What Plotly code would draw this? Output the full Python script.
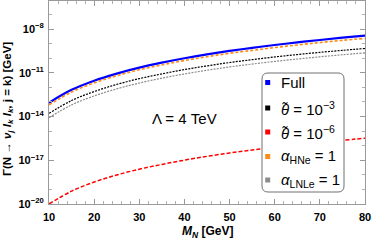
import plotly.graph_objects as go

# ---- data ----
m_n = [10, 15, 20, 25, 30, 35, 40, 45, 50, 55, 60, 65, 70, 75, 80]
gamma_full = [8.9e-14, 6.8e-13, 2.9e-12, 8.9e-12, 2.3e-11, 5.0e-11, 1.0e-10, 1.85e-10,
              3.2e-10, 5.2e-10, 8.1e-10, 1.23e-09, 1.8e-09, 2.6e-09, 3.6e-09]
gamma_hne = [6.3e-14, 4.8e-13, 2.04e-12, 6.3e-12, 1.62e-11, 3.5e-11, 7.0e-11, 1.28e-10,
             2.2e-10, 3.5e-10, 5.4e-10, 8.2e-10, 1.19e-09, 1.7e-09, 2.3e-09]
gamma_th3 = [1.66e-14, 1.26e-13, 5.2e-13, 1.6e-12, 4.0e-12, 8.5e-12, 1.68e-11, 3.0e-11,
             5.1e-11, 8.0e-11, 1.23e-10, 1.8e-10, 2.55e-10, 3.5e-10, 4.7e-10]
gamma_lnle = [8.3e-15, 6.3e-14, 2.6e-13, 8.0e-13, 2.0e-12, 4.3e-12, 8.4e-12, 1.5e-11,
              2.55e-11, 4.0e-11, 6.1e-11, 8.9e-11, 1.26e-10, 1.74e-10, 2.35e-10]
gamma_th6 = [1.0e-20, 7.6e-20, 3.2e-19, 9.8e-19, 2.45e-18, 5.2e-18, 1.02e-17, 1.86e-17,
             3.16e-17, 5.0e-17, 7.8e-17, 1.15e-16, 1.66e-16, 2.34e-16, 3.3e-16]

x_ticks = [10, 20, 30, 40, 50, 60, 70, 80]
y_tickvals = [1e-20, 1e-17, 1e-14, 1e-11, 1e-8]
y_ticktext = ["10<sup>−20</sup>", "10<sup>−17</sup>", "10<sup>−14</sup>",
              "10<sup>−11</sup>", "10<sup>−8</sup>"]

legend_names = ["Full", "<i>θ̃</i> = 10<sup>−3</sup>", "<i>θ̃</i> = 10<sup>−6</sup>",
                "<i>α</i><sub>HNe</sub> = 1", "<i>α</i><sub>LNLe</sub> = 1"]
legend_colors = ["#0000ff", "#000000", "#ff0000", "#ff8c1a", "#8c8c8c"]

FONT = "Liberation Sans, Arial"

# ---- figure ----
fig = go.Figure()
fig.add_trace(go.Scatter(x=m_n, y=gamma_full, mode="lines", line=dict(color="#0000ff", width=2.2, shape="spline"), name="Full", showlegend=False))
fig.add_trace(go.Scatter(x=m_n, y=gamma_hne, mode="lines", line=dict(color="#ff8c1a", width=1.6, dash="3px,2px", shape="spline"), name="α_HNe = 1", showlegend=False))
fig.add_trace(go.Scatter(x=m_n, y=gamma_th3, mode="lines", line=dict(color="#000000", width=1.2, dash="2px,1.2px", shape="spline"), name="θ = 1e-3", showlegend=False))
fig.add_trace(go.Scatter(x=m_n, y=gamma_lnle, mode="lines", line=dict(color="#8c8c8c", width=1.2, dash="2px,1.2px", shape="spline"), name="α_LNLe = 1", showlegend=False))
fig.add_trace(go.Scatter(x=m_n, y=gamma_th6, mode="lines", line=dict(color="#ff0000", width=1.5, dash="4px,2px", shape="spline"), name="θ = 1e-6", showlegend=False))

L, R, T, B = 49, 9, 1, 38
W, H = 374, 242
PW, PH = W - L - R, H - T - B

def px(p):
    return (p - L) / PW

def py(p):
    return (H - B - p) / PH

shapes = []
x0, x1, y0, y1, r = px(262), px(344), py(192), py(73), 6
rx, ry = r / PW, r / PH
path = (f"M {x0+rx},{y1} L {x1-rx},{y1} Q {x1},{y1} {x1},{y1-ry} "
        f"L {x1},{y0+ry} Q {x1},{y0} {x1-rx},{y0} L {x0+rx},{y0} "
        f"Q {x0},{y0} {x0},{y0+ry} L {x0},{y1-ry} Q {x0},{y1} {x0+rx},{y1} Z")
shapes.append(dict(type="path", path=path, xref="paper", yref="paper",
                   line=dict(color="#707070", width=1), fillcolor="white", layer="above"))
annotations = []
entry_y = [82.5, 108, 132, 156.5, 180]
for name, col, yy in zip(legend_names, legend_colors, entry_y):
    shapes.append(dict(type="rect", xref="paper", yref="paper",
                       x0=px(265.2), x1=px(270.2), y0=py(yy + 2.5), y1=py(yy - 2.5),
                       fillcolor=col, line=dict(width=0), layer="above"))
    annotations.append(dict(text=name, xref="paper", yref="paper", x=px(279), y=py(yy),
                            xanchor="left", yanchor="middle", showarrow=False,
                            font=dict(size=15, color="black", family=FONT)))

annotations.append(dict(text="Λ = 4 TeV", xref="paper", yref="paper", x=px(184.5), y=py(118),
                        xanchor="center", yanchor="middle", showarrow=False,
                        font=dict(size=15, color="black", family=FONT)))
annotations.append(dict(text="<b>Γ(N → <i>ν<sub>j</sub></i> <i>l<sub>k</sub></i> <i>l<sub>k</sub></i>, j = k) [GeV]</b>",
                        xref="paper", yref="paper", x=px(8), y=py(109), textangle=-90,
                        xanchor="center", yanchor="middle", showarrow=False,
                        font=dict(size=11.5, color="black", family=FONT)))
annotations.append(dict(text="<b><i>M<sub>N</sub></i> [GeV]</b>",
                        xref="paper", yref="paper", x=px(207), y=py(232),
                        xanchor="center", yanchor="middle", showarrow=False,
                        font=dict(size=12, color="black", family=FONT)))

axis_common = dict(showline=True, linecolor="#9a9a9a", linewidth=1, mirror="ticks",
                   ticks="inside", tickcolor="#9a9a9a", ticklen=5, showgrid=False, zeroline=False,
                   ticklabeloverflow="allow",
                   tickfont=dict(size=11, color="black", family=FONT, weight="bold"))

fig.update_layout(
    width=W, height=H, margin=dict(l=L, r=R, t=T, b=B, autoexpand=False),
    paper_bgcolor="white", plot_bgcolor="white",
    shapes=shapes, annotations=annotations, showlegend=False,
    xaxis=dict(range=[10, 80], tickvals=x_ticks, ticklabelstandoff=3, automargin=False,
               minor=dict(dtick=2, ticks="inside", ticklen=3, tickcolor="#b0b0b0"),
               **axis_common),
    yaxis=dict(type="log", range=[-20, -6.07], tickvals=y_tickvals, ticktext=y_ticktext,
               ticklabelstandoff=2, automargin=False,
               minor=dict(tickvals=[10.0 ** k for k in range(-20, -5)], ticks="inside", ticklen=3, tickcolor="#b0b0b0"),
               **axis_common),
)

fig.write_html("out.html", config={"displayModeBar": False},
               post_script="document.body.style.margin='0';document.body.style.overflow='hidden';")
